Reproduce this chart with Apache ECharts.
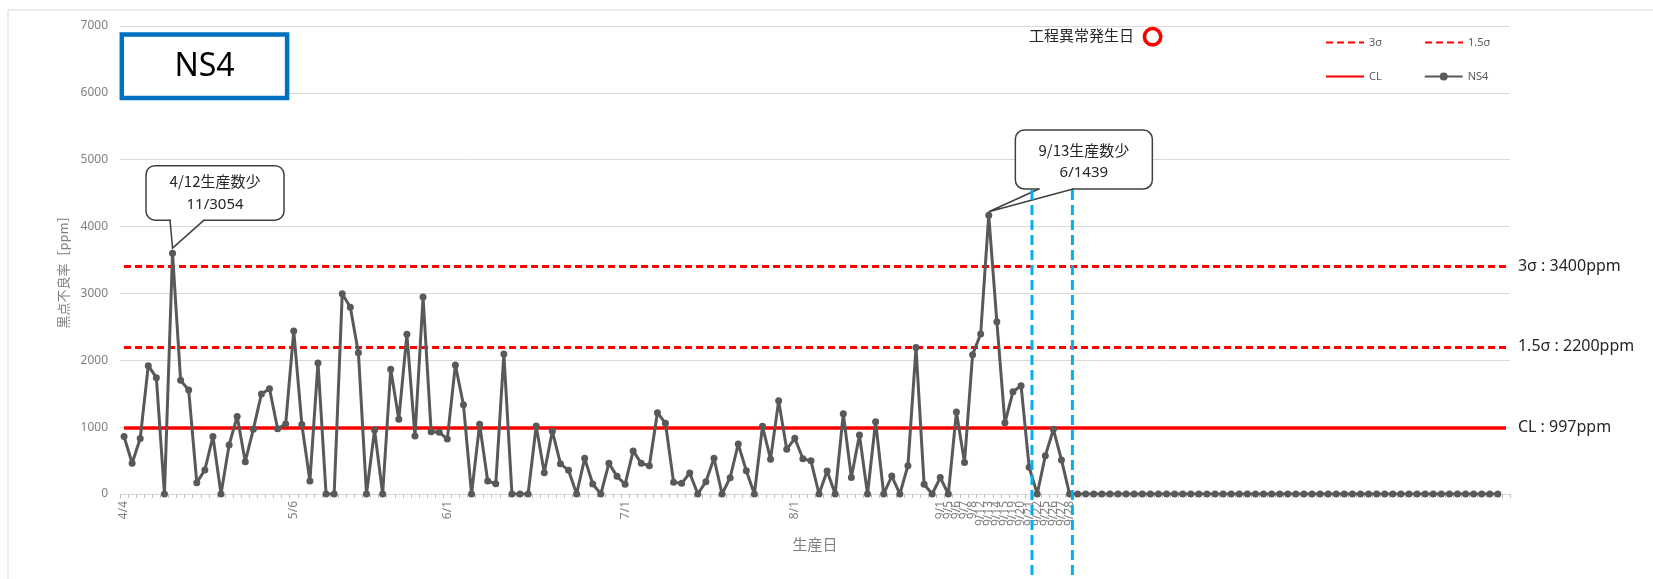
<!DOCTYPE html>
<html><head><meta charset="utf-8">
<script src="https://cdn.jsdelivr.net/npm/echarts@6/dist/echarts.min.js"></script>
<style>html,body{margin:0;padding:0;background:#fff}#c{width:1653px;height:579px}</style>
</head><body><div id="c"></div>
<script>
// ---------- data ----------
const categories = [
  '4/4','','','','','','','','','',
  '','','','','','','','','','',
  '','5/6','','','','','','','','',
  '','','','','','','','','','',
  '6/1','','','','','','','','','',
  '','','','','','','','','','',
  '','','7/1','','','','','','','',
  '','','','','','','','','','',
  '','','','8/1','','','','','','',
  '','','','','','','','','','',
  '','9/1','9/5','9/6','9/7','9/8','9/12','9/13','9/14','9/15',
  '9/19','9/20','9/21','9/22','9/25','9/26','9/27','9/28','','',
  '','','','','','','','','','',
  '','','','','','','','','','',
  '','','','','','','','','','',
  '','','','','','','','','','',
  '','','','','','','','','','',
  '',''
];
const ns4 = [
  860,460,830,1920,1740,0,3602,1700,1555,170,
  360,860,0,733,1160,484,970,1496,1575,975,
  1047,2438,1040,195,1960,0,0,2995,2792,2114,
  0,957,0,1866,1117,2388,867,2946,932,925,
  822,1929,1336,0,1042,194,152,2094,0,0,
  0,1017,319,940,454,354,0,533,150,0,
  459,264,145,645,459,422,1216,1057,175,160,
  314,0,184,533,0,244,748,346,0,1012,
  521,1393,668,833,528,496,0,344,0,1200,
  246,882,0,1082,0,269,0,424,2190,145,
  0,246,0,1226,471,2084,2393,4170,2577,1064,
  1530,1620,400,0,573,967,509,0,0,0,
  0,0,0,0,0,0,0,0,0,0,
  0,0,0,0,0,0,0,0,0,0,
  0,0,0,0,0,0,0,0,0,0,
  0,0,0,0,0,0,0,0,0,0,
  0,0,0,0,0,0,0,0,0,0,
  0,null
];
const limitNames = ['3σ','1.5σ','CL'];
const limitValues = [3400, 2200, 997];
const limitLabels = ['3σ : 3400ppm','1.5σ : 2200ppm','CL : 997ppm'];
const yMin = 0, yMax = 7000, yStep = 1000;
const calloutIndex = [6, 107];
const calloutText = [['4/12生産数少','11/3054'], ['9/13生産数少','6/1439']];
const eventDayIndex = [112, 117];

// ---------- chart ----------
const FONT = '"Noto Sans", "Noto Sans CJK JP", sans-serif';
const JP = '"Noto Sans CJK JP", sans-serif';
const chart = echarts.init(document.getElementById('c'), null, {renderer:'canvas'});
const lastIdx = categories.length - 1;
const limitStyles = [
  {color:'#ff0000', width:3, type:[7,4]},
  {color:'#ff0000', width:3, type:[7,4]},
  {color:'#ff0000', width:3.5, type:'solid'}
];
const limitSeries = limitNames.map((n, k) => ({
  name: n, type: 'line', data: [], symbol: 'none',
  itemStyle: {color: '#ff0000', opacity: 0},
  lineStyle: limitStyles[k],
  z: 2,
  markLine: {
    silent: true, symbol: 'none', animation: false,
    lineStyle: Object.assign({opacity: 1}, limitStyles[k]),
    label: {show: true, position: 'end', distance: 12, formatter: limitLabels[k],
            color: '#262626', fontSize: 16, fontFamily: FONT},
    data: [[{coord: [0, limitValues[k]]}, {coord: [lastIdx, limitValues[k]]}]]
  }
}));

const legendBase = {left: 1325, padding: 0, itemWidth: 38, itemHeight: 10, itemGap: 42,
  textStyle: {color: '#595959', fontSize: 11, fontFamily: FONT}};
const option = {
  animation: false,
  backgroundColor: '#ffffff',
  textStyle: {fontFamily: FONT},
  grid: {left: 120, right: 143, top: 26, bottom: 85, containLabel: false, outerBoundsMode: 'none'},
  legend: [
    Object.assign({}, legendBase, {top: 37, data: [{name: '3σ', itemStyle: {opacity: 0}}, {name: '1.5σ', itemStyle: {opacity: 0}}]}),
    Object.assign({}, legendBase, {top: 71, data: [{name: 'CL', itemStyle: {opacity: 0}}, 'NS4']})
  ],
  xAxis: {
    type: 'category', data: categories, boundaryGap: true,
    name: '生産日', nameLocation: 'middle', nameGap: 43,
    nameTextStyle: {color: '#808080', fontSize: 15, fontFamily: JP},
    axisLine: {lineStyle: {color: '#d9d9d9', width: 1}},
    axisTick: {show: true, interval: 0, length: 4, lineStyle: {color: '#bfbfbf'}},
    axisLabel: {interval: 0, rotate: 90, margin: 7, fontSize: 12, color: '#808080', hideOverlap: false, fontFamily: FONT},
    splitLine: {show: false}
  },
  yAxis: {
    type: 'value', min: yMin, max: yMax, interval: yStep,
    name: '黒点不良率［ppm］', nameLocation: 'middle', nameGap: 45,
    nameTextStyle: {color: '#808080', fontSize: 13, fontFamily: JP, padding: [0, 18, 0, 0]},
    axisLine: {show: false}, axisTick: {show: false},
    axisLabel: {color: '#808080', fontSize: 12, margin: 12, fontFamily: FONT, formatter: v => String(v)},
    splitLine: {lineStyle: {color: '#d9d9d9', width: 1}}
  },
  series: limitSeries.concat([{
    name: 'NS4', type: 'line', data: ns4,
    symbol: 'circle', symbolSize: 7, showSymbol: true, showAllSymbol: true,
    itemStyle: {color: '#595959'},
    lineStyle: {color: '#595959', width: 3},
    z: 5
  }])
};
chart.setOption(option);

// ---------- annotations (positioned through the chart's scales) ----------
const px = (i, v) => chart.convertToPixel({xAxisIndex: 0, yAxisIndex: 0}, [i, v]);
const step = px(1, 0)[0] - px(0, 0)[0];
const calloutLayout = [
  {dx: -26.5, dy: -87.5, w: 138, h: 54.5, t1: -2.5, t2: 31.5, tip: -5, text1: 16, lh: 23.5},
  {dx: 26.6, dy: -85.2, w: 137, h: 59, t1: 50, t2: 84.3, tip: -3.5, text1: 20, lh: 23}
];
const graphics = [];
graphics.push({type: 'rect', silent: true, z: 0, shape: {x: 8, y: 10, width: 1700, height: 700},
  style: {fill: null, stroke: '#d9d9d9', lineWidth: 1}});
graphics.push({type: 'rect', z: 50, shape: {x: 121.8, y: 34.5, width: 165.3, height: 63.5},
  style: {fill: '#ffffff', stroke: '#0070c0', lineWidth: 4.5}});
graphics.push({type: 'text', z: 51, x: 204.5, y: 67,
  style: {text: 'NS4', fontSize: 32, fontFamily: FONT, fill: '#000000', align: 'center', verticalAlign: 'middle'}});
graphics.push({type: 'text', z: 51, x: 1134, y: 35.5,
  style: {text: '工程異常発生日', fontSize: 15, fontFamily: JP, fill: '#262626', align: 'right', verticalAlign: 'middle'}});
graphics.push({type: 'circle', z: 51, shape: {cx: 1152.6, cy: 36.7, r: 8.2},
  style: {fill: null, stroke: '#ff0000', lineWidth: 3.6}});

const calloutBottom = [];
calloutIndex.forEach((idx, k) => {
  const p = px(idx, ns4[idx]);
  const L = calloutLayout[k];
  const bx = p[0] + L.dx, by = p[1] + L.dy, yb = by + L.h;
  calloutBottom.push(yb);
  const tip = [p[0], p[1] + L.tip];
  graphics.push({type: 'rect', z: 60, shape: {x: bx, y: by, width: L.w, height: L.h, r: 9},
    style: {fill: '#ffffff', stroke: '#404040', lineWidth: 1.5}});
  graphics.push({type: 'polygon', z: 61, shape: {points: [[p[0] + L.t1 + 1, yb - 3], [p[0] + L.t2 - 1, yb - 3], [p[0] + L.t2 - 1, yb + 1], [p[0] + L.t1 + 1, yb + 1]]},
    style: {fill: '#ffffff'}});
  graphics.push({type: 'polyline', z: 62, shape: {points: [[p[0] + L.t1, yb], tip, [p[0] + L.t2, yb]]},
    style: {fill: null, stroke: '#404040', lineWidth: 1.5}});
  graphics.push({type: 'text', z: 63, x: bx + L.w / 2, y: by + L.text1,
    style: {text: calloutText[k][0], fontSize: 15, fontFamily: JP, fill: '#262626', align: 'center', verticalAlign: 'middle'}});
  graphics.push({type: 'text', z: 63, x: bx + L.w / 2, y: by + L.text1 + L.lh,
    style: {text: calloutText[k][1], fontSize: 15, fontFamily: FONT, fill: '#262626', align: 'center', verticalAlign: 'middle'}});
});
eventDayIndex.forEach(idx => {
  const x = px(idx, 0)[0] + 0.35 * step;
  graphics.push({type: 'line', z: 70, silent: true, shape: {x1: x, y1: calloutBottom[1] + 1, x2: x, y2: 600},
    style: {stroke: '#00b0f0', lineWidth: 3, lineDash: [10, 5]}});
});
chart.setOption({graphic: graphics});
</script>
</body></html>
